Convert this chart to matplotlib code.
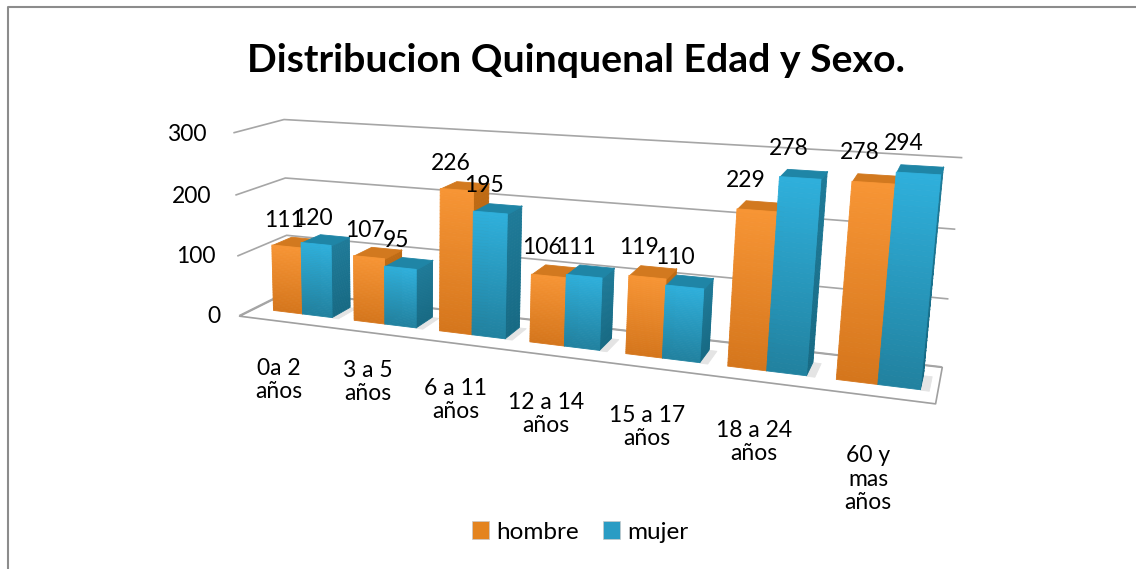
import numpy as np
import matplotlib
matplotlib.use("Agg")
import matplotlib.pyplot as plt
from matplotlib.patches import Patch
from mpl_toolkits.mplot3d.art3d import Poly3DCollection, Line3DCollection

plt.rcParams['font.family'] = ['Lato', 'DejaVu Sans']

# ---- data ----
categories = ['0a 2\naños', '3 a 5\naños', '6 a 11\naños', '12 a 14\naños',
              '15 a 17\naños', '18 a 24\naños', '60 y\nmas\naños']
hombre = [111, 107, 226, 106, 119, 229, 278]
mujer = [120, 95, 195, 111, 110, 278, 294]
y_ticks = [0, 100, 200, 300]
title = 'Distribucion Quinquenal Edad y Sexo.'

# ---- layout ----
W, H = 1136, 569
FS = 16.5
# camera calibration: (category x, depth, value) -> image pixel
calib = [
    ((0, 0, 0), (245, 316)), ((7, 0, 0), (935, 403)),
    ((7, 1, 0), (943, 367)), ((0, 1, 0), (282, 291)),
    ((0, 0, 100), (239, 257)), ((0, 0, 200), (233, 195)), ((0, 0, 300), (228, 132)),
    ((0, 1, 100), (285, 234)), ((0, 1, 200), (287, 179)), ((0, 1, 300), (290, 120)),
    ((7, 1, 100), (948, 299)), ((7, 1, 200), (955, 230)), ((7, 1, 300), (962, 157)),
]
cat_label_px = [(279, 380), (368, 382), (456, 400), (546, 414), (647, 427), (754, 442), (868, 479)]


def fit_camera(pairs):
    rows = []
    for (x, d, v), (u, w) in pairs:
        X = [x, d, v / 100.0, 1.0]
        u, w = u / 1000.0, w / 1000.0
        rows.append(X + [0, 0, 0, 0] + [-u * c for c in X])
        rows.append([0, 0, 0, 0] + X + [-w * c for c in X])
    _, _, vt = np.linalg.svd(np.array(rows))
    P = vt[-1].reshape(3, 4)
    P = np.diag([1000.0, 1000.0, 1.0]) @ P @ np.diag([1, 1, 0.01, 1])
    return P


P = fit_camera(calib)

fig = plt.figure(figsize=(W / 100, H / 100), dpi=100, facecolor='white')
ax = fig.add_axes([0, 0, 1, 1], projection='3d')
ax.set_axis_off()
ax.computed_zorder = False
ax.apply_aspect = lambda *a, **k: None


def camera_matrix():
    flip = np.array([[1, 0, 0], [0, -1, H], [0, 0, 1]], float)
    to_data = np.linalg.inv(ax.transData.get_affine().get_matrix())
    Q = to_data @ flip @ P
    return np.array([Q[0], Q[1], np.array([0, 1, 0, 0.0]), Q[2]])


ax.get_proj = camera_matrix


def text_at(x, d, v, s, ha='center'):
    """Label a 3D chart position with flat figure text through the same camera."""
    u, w, q = P @ np.array([x, d, v, 1.0])
    fig.text(u / q / W, 1 - w / q / H, s, ha=ha, va='center', fontsize=FS, color='black', zorder=100)


def lerp(a, b, t):
    a, b = np.array(matplotlib.colors.to_rgb(a)), np.array(matplotlib.colors.to_rgb(b))
    return tuple(a + (b - a) * t)


def add_faces(verts, cols, z):
    ax.add_collection3d(Poly3DCollection(verts, facecolors=cols, edgecolors=cols, linewidths=0.6, zorder=z))


def draw_box(x0, x1, d0, d1, v, pal, z, n=40):
    levels = np.linspace(0, v, n + 1)
    front, side, fc, sc = [], [], [], []
    for k in range(n):
        a, b = levels[k], levels[k + 1]
        t = (k + .5) / n
        front.append([(x0, d0, a), (x1, d0, a), (x1, d0, b), (x0, d0, b)])
        side.append([(x1, d0, a), (x1, d1, a), (x1, d1, b), (x1, d0, b)])
        fc.append(lerp(pal['front_low'], pal['front_high'], t))
        sc.append(lerp(pal['side_low'], pal['side_high'], t))
    add_faces(side, sc, z)
    add_faces([[(x0, d0, v), (x1, d0, v), (x1, d1, v), (x0, d1, v)]], [pal['top']], z + .1)
    add_faces(front, fc, z + .2)


# floor and walls
ax.add_collection3d(Poly3DCollection([[(0, -0.03, 0), (7, -0.03, 0), (7, 1, 0), (0, 1, 0)]],
                                     facecolors='#eeeeee', edgecolors='none', zorder=0.2))
ax.add_collection3d(Poly3DCollection([[(0, 0, 0), (7, 0, 0), (7, 1, 0), (0, 1, 0)]],
                                     facecolors='white', edgecolors='#a0a0a0', linewidths=1.2, zorder=0.5))
grid_segments = [[(0, 0, v), (0, 1, v), (7, 1, v)] for v in y_ticks]
ax.add_collection3d(Line3DCollection(grid_segments, colors='#a6a6a6', linewidths=1.2, zorder=1))
for v in y_ticks:
    text_at(-0.36 + v * -0.0003 + 0.12, 0, v - 5, str(v), ha='right')

orange = dict(front_low='#D5761C', front_high='#F79535', side_low='#A85A10', side_high='#C06C14', top='#D2791F')
blue = dict(front_low='#21819F', front_high='#2FB0DC', side_low='#176A84', side_high='#1F7B99', top='#1F85A6')

# bars
BW, GAP0 = 0.36, 0.14
D0, D1 = 0.3, 0.7
LABEL_DX, LABEL_DV = 0.15, 34
for i, (h, m) in enumerate(zip(hombre, mujer)):
    x0 = i + GAP0 + 0.1 * (1 - i / 6)
    add_faces([[(x0 + BW * 2, D0, 0), (x0 + BW * 2 + 0.07, D0, 0), (x0 + BW * 2 + 0.07, D1, 0), (x0 + BW * 2, D1, 0)]],
              ['#e4e4e4'], 2)
    draw_box(x0, x0 + BW, D0, D1, h, orange, 10 + i * 2)
    draw_box(x0 + BW, x0 + 2 * BW, D0, D1, m, blue, 11 + i * 2)
    text_at(x0 + BW * .5 - LABEL_DX, 0.5, h + LABEL_DV, str(h))
    text_at(x0 + BW * 1.5 - LABEL_DX, 0.5, m + LABEL_DV, str(m))

# category labels
for lab, (u, w) in zip(categories, cat_label_px):
    fig.text(u / W, 1 - w / H, lab, ha='center', va='center', fontsize=FS, color='black', linespacing=1.12)

fig.text(576 / W, 1 - 60 / H, title, ha='center', va='center', fontsize=28.3, fontweight='bold', color='black')

handles = [Patch(facecolor='#E4841F', edgecolor='#C9C9C9', linewidth=0.5),
           Patch(facecolor='#2A9CC4', edgecolor='#C9C9C9', linewidth=0.5)]
fig.legend(handles, ['hombre', 'mujer'], loc='center', bbox_to_anchor=(580 / W, 1 - 532 / H), ncol=2, frameon=False,
           fontsize=17.5, handlelength=0.7, handleheight=0.7, handletextpad=0.3, columnspacing=1.0, labelcolor='black')

# chart border (only top and left are visible in the crop)
fig.add_artist(plt.Line2D([7.5 / W, 7.5 / W, 1], [0, 1 - 6.5 / H, 1 - 6.5 / H], color='#8c8c8c', lw=1.5,
                          transform=fig.transFigure))

fig.savefig('out.png', dpi=100)
